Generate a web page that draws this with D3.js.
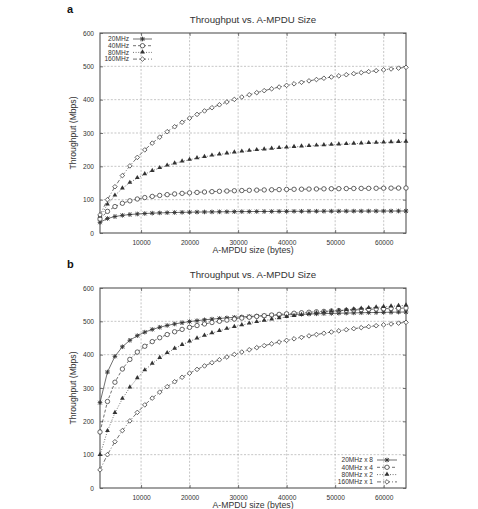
<!DOCTYPE html>
<html>
<head>
<meta charset="utf-8">
<script src="https://cdn.jsdelivr.net/npm/d3@7"></script>
<style>
  body { margin: 0; background: #fff; }
  svg { display: block; }
  text { font-family: "Liberation Sans", Arial, sans-serif; fill: #333; }
</style>
</head>
<body>
<div id="chart"></div>
<script>
// A-MPDU size in bytes (x of every point)
var ampduSize = [1538, 3076, 4614, 6152, 7690, 9228, 10766, 12304, 13842, 15380,
  16918, 18456, 19994, 21532, 23070, 24608, 26146, 27684, 29222, 30760,
  32298, 33836, 35374, 36912, 38450, 39988, 41526, 43064, 44602, 46140,
  47678, 49216, 50754, 52292, 53830, 55368, 56906, 58444, 59982, 61520,
  63058, 64596];

// panel a: throughput (Mbps) per channel width
var bw20 = [32.0, 43.5, 49.4, 53.0, 55.4, 57.1, 58.4, 59.5, 60.3, 61.0,
  61.5, 62.0, 62.4, 62.8, 63.1, 63.3, 63.6, 63.8, 64.0, 64.2,
  64.3, 64.5, 64.6, 64.7, 64.9, 65.0, 65.1, 65.2, 65.2, 65.3,
  65.4, 65.5, 65.5, 65.6, 65.7, 65.7, 65.8, 65.8, 65.9, 65.9,
  66.0, 66.0];
var bw40 = [42.0, 64.9, 79.3, 89.2, 96.5, 102.0, 106.3, 109.8, 112.7, 115.1,
  117.2, 118.9, 120.5, 121.8, 123.0, 124.1, 125.1, 125.9, 126.7, 127.4,
  128.1, 128.7, 129.2, 129.7, 130.2, 130.7, 131.1, 131.4, 131.8, 132.1,
  132.5, 132.8, 133.0, 133.3, 133.6, 133.8, 134.0, 134.2, 134.4, 134.6,
  134.8, 135.0];
var bw80 = [49.6, 85.5, 112.6, 133.8, 150.9, 164.9, 176.6, 186.6, 195.1, 202.5,
  209.0, 214.8, 219.9, 224.5, 228.6, 232.4, 235.8, 238.9, 241.7, 244.4,
  246.8, 249.0, 251.1, 253.1, 254.9, 256.6, 258.2, 259.7, 261.1, 262.4,
  263.7, 264.9, 266.0, 267.0, 268.1, 269.0, 269.9, 270.8, 271.7, 272.5,
  273.2, 274.0];
var bw160 = [54.4, 100.0, 138.8, 172.2, 201.3, 226.8, 249.4, 269.6, 287.6, 303.9,
  318.7, 332.2, 344.5, 355.8, 366.2, 375.8, 384.7, 393.0, 400.7, 407.9,
  414.7, 421.0, 427.0, 432.6, 437.9, 442.9, 447.6, 452.1, 456.4, 460.4,
  464.3, 468.0, 471.5, 474.8, 478.0, 481.1, 484.0, 486.8, 489.5, 492.1,
  494.6, 497.0];

// panel b: same bandwidth budget (N channels x width)
var agg20x8 = [256.1, 347.8, 395.0, 423.7, 443.1, 457.0, 467.5, 475.7, 482.2, 487.6,
  492.1, 495.9, 499.2, 502.0, 504.5, 506.7, 508.6, 510.4, 512.0, 513.4,
  514.7, 515.9, 517.0, 518.0, 518.9, 519.7, 520.6, 521.3, 522.0, 522.6,
  523.2, 523.8, 524.4, 524.8, 525.3, 525.8, 526.2, 526.6, 527.0, 527.3,
  527.7, 528.0];
var agg40x4 = [168.0, 259.6, 317.3, 356.9, 385.8, 407.8, 425.2, 439.2, 450.8, 460.4,
  468.7, 475.8, 481.9, 487.4, 492.1, 496.4, 500.2, 503.7, 506.9, 509.7,
  512.3, 514.7, 516.9, 519.0, 520.9, 522.6, 524.3, 525.8, 527.2, 528.6,
  529.8, 531.0, 532.2, 533.2, 534.2, 535.2, 536.1, 537.0, 537.8, 538.5,
  539.3, 540.0];
var agg80x2 = [99.3, 171.0, 225.3, 267.7, 301.8, 329.8, 353.3, 373.2, 390.2, 405.1,
  418.1, 429.6, 439.8, 449.0, 457.2, 464.7, 471.5, 477.7, 483.5, 488.7,
  493.6, 498.1, 502.2, 506.1, 509.8, 513.1, 516.3, 519.3, 522.1, 524.8,
  527.3, 529.7, 531.9, 534.1, 536.1, 538.1, 539.9, 541.7, 543.3, 544.9,
  546.5, 547.9];
var agg160x1 = [54.4, 100.0, 138.8, 172.2, 201.3, 226.8, 249.4, 269.6, 287.6, 303.9,
  318.7, 332.2, 344.5, 355.8, 366.2, 375.8, 384.7, 393.0, 400.7, 407.9,
  414.7, 421.0, 427.0, 432.6, 437.9, 442.9, 447.6, 452.1, 456.4, 460.4,
  464.3, 468.0, 471.5, 474.8, 478.0, 481.1, 484.0, 486.8, 489.5, 492.1,
  494.6, 497.0];

var labelsA = ["20MHz", "40MHz", "80MHz", "160MHz"];
var labelsB = ["20MHz x 8", "40MHz x 4", "80MHz x 2", "160MHz x 1"];
var yTicks = [0, 100, 200, 300, 400, 500, 600];
var xTicks = [10000, 20000, 30000, 40000, 50000, 60000];
var titleText = "Throughput vs. A-MPDU Size";
var xTitle = "A-MPDU size (bytes)";
var yTitle = "Throughput (Mbps)";

var W = 478, H = 509;
var ink = "#333";
// line style + marker per series slot
var styles = [
  { dash: null, marker: "star" },
  { dash: "3,2", marker: "circle" },
  { dash: "1,1.6", marker: "triangle" },
  { dash: "4,2,1,2", marker: "diamond" }
];

var svg = d3.select("#chart").append("svg").attr("width", W).attr("height", H);

function drawMarker(g, type, x, y) {
  if (type === "star") {
    var r = 2.3;
    var p = g.append("g").attr("transform", "translate(" + x + "," + y + ")")
      .attr("stroke", ink).attr("stroke-width", 0.9);
    p.append("line").attr("x1", -r).attr("x2", r).attr("y1", 0).attr("y2", 0);
    p.append("line").attr("x1", 0).attr("x2", 0).attr("y1", -r).attr("y2", r);
    p.append("line").attr("x1", -r * 0.8).attr("x2", r * 0.8).attr("y1", -r * 0.8).attr("y2", r * 0.8);
    p.append("line").attr("x1", -r * 0.8).attr("x2", r * 0.8).attr("y1", r * 0.8).attr("y2", -r * 0.8);
  } else if (type === "circle") {
    g.append("circle").attr("cx", x).attr("cy", y).attr("r", 2.2)
      .attr("fill", "#fff").attr("stroke", ink).attr("stroke-width", 0.75);
  } else if (type === "triangle") {
    g.append("path").attr("d", d3.symbol().type(d3.symbolTriangle).size(10)())
      .attr("transform", "translate(" + x + "," + (y - 0.3) + ")")
      .attr("fill", ink);
  } else if (type === "diamond") {
    var s = 2.3;
    g.append("path")
      .attr("d", "M" + x + "," + (y - s) + "L" + (x + s) + "," + y + "L" + x + "," + (y + s) + "L" + (x - s) + "," + y + "Z")
      .attr("fill", "#fff").attr("stroke", ink).attr("stroke-width", 0.75);
  }
}

function drawPanel(cfg) {
  var left = 100, right = 406, top = cfg.top, bottom = cfg.bottom;
  var x = d3.scaleLinear().domain([ampduSize[0], ampduSize[ampduSize.length - 1]]).range([left, right]);
  var y = d3.scaleLinear().domain([0, 600]).range([bottom, top]);
  var g = svg.append("g");

  // panel letter and title
  g.append("text").attr("x", 67).attr("y", top - 20)
    .style("font-size", "11px").style("font-weight", "bold").style("fill", "#111").text(cfg.letter);
  g.append("text").attr("x", 253).attr("y", top - 10).attr("text-anchor", "middle")
    .style("font-size", "9.7px").text(titleText);

  // grid
  var grid = g.append("g").attr("stroke", "#a0a0a0").attr("stroke-width", 0.6).attr("stroke-dasharray", "2,1.6");
  grid.selectAll(".gy").data(yTicks.slice(1, -1)).enter().append("line")
    .attr("x1", left).attr("x2", right).attr("y1", function (d) { return y(d); }).attr("y2", function (d) { return y(d); });
  grid.selectAll(".gx").data(xTicks).enter().append("line")
    .attr("y1", top).attr("y2", bottom).attr("x1", function (d) { return x(d); }).attr("x2", function (d) { return x(d); });

  // axes (ticks drawn inward, labels from the axis)
  var ya = g.append("g").attr("transform", "translate(" + left + ",0)")
    .call(d3.axisLeft(y).tickValues(yTicks).tickSize(-3).tickPadding(6));
  var xa = g.append("g").attr("transform", "translate(0," + bottom + ")")
    .call(d3.axisBottom(x).tickValues(xTicks).tickSize(-3).tickPadding(7).tickFormat(d3.format("d")));
  g.append("g").attr("transform", "translate(" + right + ",0)")
    .call(d3.axisRight(y).tickValues(yTicks).tickSize(-3).tickFormat(""));
  g.append("g").attr("transform", "translate(0," + top + ")")
    .call(d3.axisTop(x).tickValues(xTicks).tickSize(-3).tickFormat(""));
  g.selectAll(".domain").remove();
  g.selectAll(".tick line").attr("stroke", "#555").attr("stroke-width", 0.8);
  ya.selectAll("text").style("font-size", "6.6px").attr("fill", "#3a3a3a");
  xa.selectAll("text").style("font-size", "6.6px").attr("fill", "#3a3a3a");

  // frame
  g.append("rect").attr("x", left).attr("y", top).attr("width", right - left).attr("height", bottom - top)
    .attr("fill", "none").attr("stroke", "#555").attr("stroke-width", 1.1);

  // axis titles
  g.append("text").attr("x", 253).attr("y", bottom + 20).attr("text-anchor", "middle")
    .style("font-size", "8.7px").text(xTitle);
  g.append("text").attr("transform", "translate(76," + ((top + bottom) / 2) + ") rotate(-90)")
    .attr("text-anchor", "middle").style("font-size", "8.6px").text(yTitle);

  // series
  var line = d3.line().x(function (d, i) { return x(ampduSize[i]); }).y(function (d) { return y(d); });
  cfg.series.forEach(function (vals, k) {
    var st = styles[k];
    var path = g.append("path").datum(vals).attr("d", line)
      .attr("fill", "none").attr("stroke", ink).attr("stroke-width", 0.7);
    if (st.dash) path.attr("stroke-dasharray", st.dash);
  });
  cfg.series.forEach(function (vals, k) {
    var mg = g.append("g");
    vals.forEach(function (v, i) { drawMarker(mg, styles[k].marker, x(ampduSize[i]), y(v)); });
  });

  // legend
  var lg = g.append("g");
  cfg.labels.forEach(function (lab, k) {
    var ly = cfg.legend.y + k * cfg.legend.step;
    lg.append("text").attr("x", cfg.legend.textX).attr("y", ly + 2.2).attr("text-anchor", "end")
      .style("font-size", "6.6px").text(lab);
    var ln = lg.append("line").attr("x1", cfg.legend.x1).attr("x2", cfg.legend.x2).attr("y1", ly).attr("y2", ly)
      .attr("stroke", ink).attr("stroke-width", 0.7);
    if (styles[k].dash) ln.attr("stroke-dasharray", styles[k].dash);
    drawMarker(lg, styles[k].marker, (cfg.legend.x1 + cfg.legend.x2) / 2, ly);
  });
}

drawPanel({
  letter: "a", top: 33, bottom: 233,
  series: [bw20, bw40, bw80, bw160], labels: labelsA,
  legend: { y: 39, step: 6.7, textX: 129, x1: 133, x2: 152 }
});
drawPanel({
  letter: "b", top: 288, bottom: 488,
  series: [agg20x8, agg40x4, agg80x2, agg160x1], labels: labelsB,
  legend: { y: 460, step: 7.3, textX: 373, x1: 377, x2: 397 }
});
</script>
</body>
</html>
